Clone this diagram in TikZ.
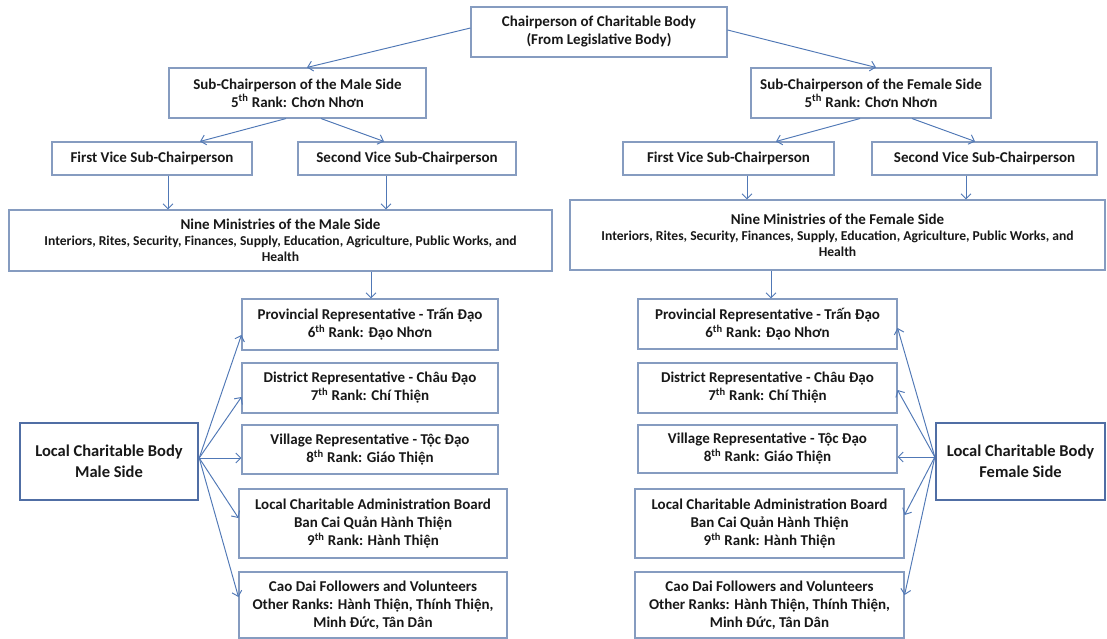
\documentclass[tikz,border=0pt]{standalone}
\usepackage{fontspec}
\setmainfont{Carlito}
\usetikzlibrary{arrows.meta}
\definecolor{boxc}{RGB}{134,156,192}
\definecolor{arrc}{RGB}{80,120,182}
\definecolor{thickc}{RGB}{80,110,164}
\definecolor{txt}{RGB}{24,24,24}
\tikzset{
  bx/.style={draw=boxc, line width=1.1pt, fill=white, inner sep=0pt, align=center, text=txt,
    font=\fontsize{15}{18}\selectfont\bfseries},
  lbx/.style={bx, draw=thickc, line width=2.4pt, font=\fontsize{16.5}{21}\selectfont\bfseries},
  mbx/.style={bx, font=\fontsize{13.6}{15.8}\selectfont\bfseries},
  arr/.style={draw=arrc, line width=0.95pt, -{Straight Barb[length=5pt,width=10pt]}}
}
\newcommand{\supth}[1]{#1\textsuperscript{th}}
\begin{document}
\begin{tikzpicture}[x=1pt,y=-1pt]
\useasboundingbox[fill=white] (0,0) rectangle (1107,639);
% top
\node[bx, minimum width=256pt, minimum height=50pt] (top) at (599,32) {Chairperson of Charitable Body\\(From Legislative Body)};
% sub chairs
\node[bx, minimum width=257pt, minimum height=50pt] (sm) at (297.5,93) {Sub-Chairperson of the Male Side\\\supth{5} Rank: Chơn Nhơn};
\node[bx, minimum width=240pt, minimum height=50pt] (sf) at (871,93) {Sub-Chairperson of the Female Side\\\supth{5} Rank: Chơn Nhơn};
% vices
\node[bx, minimum width=200pt, minimum height=33pt] (v1m) at (152,158.5) {First Vice Sub-Chairperson};
\node[bx, minimum width=218pt, minimum height=33pt] (v2m) at (407,158.5) {Second Vice Sub-Chairperson};
\node[bx, minimum width=211pt, minimum height=33pt] (v1f) at (728.5,158.5) {First Vice Sub-Chairperson};
\node[bx, minimum width=225pt, minimum height=33pt] (v2f) at (984.5,158.5) {Second Vice Sub-Chairperson};
% ministries
\node[mbx, minimum width=543pt, minimum height=61pt] (mm) at (280.5,240.5) {{\fontsize{15}{15.8}\selectfont Nine Ministries of the Male Side}\\Interiors, Rites, Security, Finances, Supply, Education, Agriculture, Public Works, and\\Health};
\node[mbx, minimum width=535pt, minimum height=70pt] (mf) at (837.5,235) {{\fontsize{15}{15.8}\selectfont Nine Ministries of the Female Side}\\Interiors, Rites, Security, Finances, Supply, Education, Agriculture, Public Works, and\\Health};
% male lower
\node[bx, minimum width=256pt, minimum height=51pt] (pm) at (370,324.5) {Provincial Representative - Trấn Đạo\\\supth{6} Rank: Đạo Nhơn};
\node[bx, minimum width=256pt, minimum height=50pt] (dm) at (370,388) {District Representative - Châu Đạo\\\supth{7} Rank: Chí Thiện};
\node[bx, minimum width=256pt, minimum height=49pt] (vm) at (370,449.5) {Village Representative - Tộc Đạo\\\supth{8} Rank: Giáo Thiện};
\node[bx, minimum width=268pt, minimum height=69pt] (am) at (373,523.5) {Local Charitable Administration Board\\Ban Cai Quản Hành Thiện\\\supth{9} Rank: Hành Thiện};
\node[bx, minimum width=268pt, minimum height=66pt] (cm) at (373,605) {Cao Dai Followers and Volunteers\\Other Ranks: Hành Thiện, Thính Thiện,\\Minh Đức, Tân Dân};
\node[lbx, minimum width=178pt, minimum height=77pt] (lm) at (109,461.5) {Local Charitable Body\\Male Side};
% female lower
\node[bx, minimum width=259pt, minimum height=50pt] (pf) at (767.5,324) {Provincial Representative - Trấn Đạo\\\supth{6} Rank: Đạo Nhơn};
\node[bx, minimum width=259pt, minimum height=50pt] (df) at (767.5,388) {District Representative - Châu Đạo\\\supth{7} Rank: Chí Thiện};
\node[bx, minimum width=259pt, minimum height=48pt] (vf) at (767.5,449) {Village Representative - Tộc Đạo\\\supth{8} Rank: Giáo Thiện};
\node[bx, minimum width=269pt, minimum height=69pt] (af) at (769.5,523.5) {Local Charitable Administration Board\\Ban Cai Quản Hành Thiện\\\supth{9} Rank: Hành Thiện};
\node[bx, minimum width=269pt, minimum height=66pt] (cf) at (769.5,605) {Cao Dai Followers and Volunteers\\Other Ranks: Hành Thiện, Thính Thiện,\\Minh Đức, Tân Dân};
\node[lbx, minimum width=169pt, minimum height=77pt] (lf) at (1020.5,461.5) {Local Charitable Body\\Female Side};
% arrows top
\draw[arr] ([yshift=4pt]top.west) -- ([xshift=9.5pt]sm.north);
\draw[arr] ([yshift=2pt]top.east) -- ([xshift=5pt]sf.north);
\draw[arr] ([xshift=-11.5pt]sm.south) -- ([xshift=48pt]v1m.north);
\draw[arr] ([xshift=23.5pt]sm.south) -- ([xshift=-23pt]v2m.north);
\draw[arr] ([xshift=-11pt]sf.south) -- ([xshift=47.5pt]v1f.north);
\draw[arr] ([xshift=41pt]sf.south) -- ([xshift=-9.5pt]v2f.north);
\draw[arr] ([xshift=16pt]v1m.south) -- ([xshift=16pt]v1m.south |- mm.north);
\draw[arr] ([xshift=-21pt]v2m.south) -- ([xshift=-21pt]v2m.south |- mm.north);
\draw[arr] ([xshift=18.5pt]v1f.south) -- ([xshift=18.5pt]v1f.south |- mf.north);
\draw[arr] ([xshift=-18.5pt]v2f.south) -- ([xshift=-18.5pt]v2f.south |- mf.north);
\draw[arr] ([xshift=1pt]pm.north |- mm.south) -- ([xshift=1pt]pm.north);
\draw[arr] ([xshift=3.5pt]pf.north |- mf.south) -- ([xshift=3.5pt]pf.north);
% male local
\draw[arr] ([yshift=3.5pt]lm.east) -- ([yshift=-10.5pt]pm.west);
\draw[arr] ([yshift=3.5pt]lm.east) -- ([yshift=-9pt]dm.west);
\draw[arr] ([yshift=3.5pt]lm.east) -- ([yshift=-8.5pt]vm.west);
\draw[arr] ([yshift=3.5pt]lm.east) -- ([yshift=5.5pt]am.west);
\draw[arr] ([yshift=3.5pt]lm.east) -- ([yshift=8pt]cm.west);
% female local
\draw[arr] ([yshift=4.5pt]lf.west) -- ([yshift=-4pt]pf.east);
\draw[arr] ([yshift=4.5pt]lf.west) -- ([yshift=-2pt]df.east);
\draw[arr] ([yshift=4.5pt]lf.west) -- ([yshift=-8pt]vf.east);
\draw[arr] ([yshift=4.5pt]lf.west) -- ([yshift=8.5pt]af.east);
\draw[arr] ([yshift=4.5pt]lf.west) -- ([yshift=10pt]cf.east);
\end{tikzpicture}
\end{document}
